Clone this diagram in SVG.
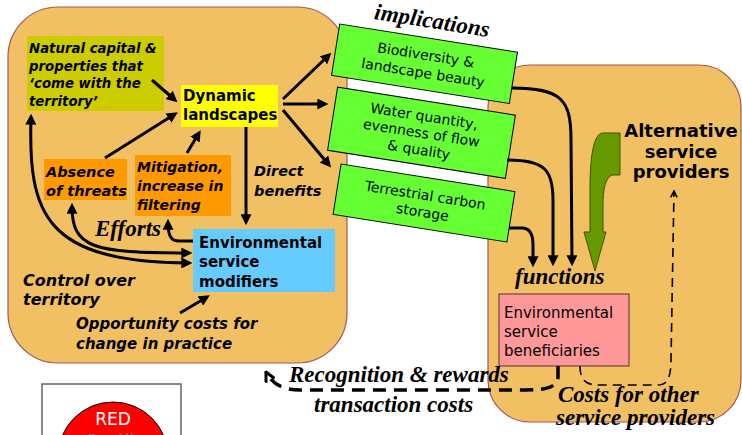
<svg xmlns="http://www.w3.org/2000/svg" width="742" height="435" viewBox="0 0 742 435">
<defs>
<style>
.panel{fill:#F0C062;stroke:#A3555A;stroke-width:1.2}
.sbi{font-family:"DejaVu Sans",Verdana,sans-serif;font-weight:bold;font-style:oblique;fill:#000}
.sb{font-family:"DejaVu Sans",Verdana,sans-serif;font-weight:bold;fill:#000}
.sr{font-family:"DejaVu Sans",Verdana,sans-serif;fill:#000}
.ser{font-family:"Liberation Serif","Times New Roman",serif;font-weight:bold;font-style:italic;fill:#000;font-size:23px}
.green{fill:#66FF33;stroke:#000;stroke-width:1}
.arr{fill:none;stroke:#000;stroke-width:3;marker-end:url(#ah)}
</style>
<marker id="ah" viewBox="0 0 10 10" refX="7" refY="5" markerWidth="11" markerHeight="11" markerUnits="userSpaceOnUse" orient="auto-start-reverse"><path d="M0,0 L10,5 L0,10 z" fill="#000"/></marker>
<marker id="open" viewBox="0 0 10 10" refX="9" refY="5" markerWidth="12" markerHeight="12" markerUnits="userSpaceOnUse" orient="auto"><path d="M1,1 L9,5 L1,9" fill="none" stroke="#000" stroke-width="2.5"/></marker>
<marker id="open2" viewBox="0 0 10 10" refX="9" refY="5" markerWidth="8" markerHeight="8" markerUnits="userSpaceOnUse" orient="auto"><path d="M1,1 L9,5 L1,9" fill="none" stroke="#000" stroke-width="2"/></marker>
</defs>
<rect width="742" height="435" fill="#fff"/>
<rect id="left-panel" class="panel" x="8" y="7" width="339" height="356" rx="50" ry="50"/>
<rect id="right-panel" class="panel" x="488" y="65" width="253" height="357" rx="42" ry="42"/>

<g id="natural-capital">
<rect x="27" y="36" width="137" height="75" fill="#CCCC00"/>
<text class="sbi" font-size="13.3"><tspan x="29" y="53">Natural capital &amp;</tspan><tspan x="29" y="71">properties that</tspan><tspan x="29" y="88">‘come with the</tspan><tspan x="29" y="106">territory’</tspan></text>
</g>
<g id="dynamic-landscapes">
<rect x="181" y="85" width="97" height="42" fill="#FFFF00"/>
<text class="sb" font-size="15"><tspan x="183" y="101">Dynamic</tspan><tspan x="183" y="120">landscapes</tspan></text>
</g>
<g id="absence-of-threats">
<rect x="44" y="159" width="83" height="41" fill="#FF9900"/>
<text class="sbi" font-size="14.5"><tspan x="46" y="177">Absence</tspan><tspan x="46" y="196">of threats</tspan></text>
</g>
<g id="mitigation">
<rect x="135" y="155" width="96" height="61" fill="#FF9900"/>
<text class="sbi" font-size="14"><tspan x="137" y="172">Mitigation,</tspan><tspan x="137" y="191">increase in</tspan><tspan x="137" y="210">filtering</tspan></text>
</g>
<g id="service-modifiers">
<rect x="193" y="229" width="142" height="63" fill="#66CCFF"/>
<text class="sb" font-size="15"><tspan x="199" y="248">Environmental</tspan><tspan x="199" y="267">service</tspan><tspan x="199" y="287">modifiers</tspan></text>
</g>
<g id="labels-left">
<text class="sbi" font-size="14.5"><tspan x="254" y="176">Direct</tspan><tspan x="254" y="196">benefits</tspan></text>
<text class="ser" x="95" y="236">Efforts</text>
<text class="sbi" font-size="16"><tspan x="23" y="286">Control over</tspan><tspan x="23" y="305">territory</tspan></text>
<text class="sbi" font-size="15"><tspan x="76" y="329">Opportunity costs for</tspan><tspan x="76" y="349">change in practice</tspan></text>
</g>

<g id="implications">
<text class="ser" transform="translate(431,28) rotate(9)" text-anchor="middle">implications</text>
</g>
<g id="biodiversity" transform="translate(424.5,63.75) rotate(9)">
<rect class="green" x="-90" y="-26" width="180" height="52"/>
<text class="sr" font-size="14" text-anchor="middle"><tspan x="0" y="-4">Biodiversity &amp;</tspan><tspan x="0" y="14">landscape beauty</tspan></text>
</g>
<g id="water" transform="translate(421.5,132.75) rotate(9)">
<rect class="green" x="-90" y="-32" width="180" height="64"/>
<text class="sr" font-size="14" text-anchor="middle"><tspan x="0" y="-12">Water quantity,</tspan><tspan x="0" y="5">evenness of flow</tspan><tspan x="0" y="22">&amp; quality</tspan></text>
</g>
<g id="carbon" transform="translate(424,203) rotate(9)">
<rect class="green" x="-88" y="-25.5" width="176" height="51"/>
<text class="sr" font-size="14" text-anchor="middle"><tspan x="0" y="-3">Terrestrial carbon</tspan><tspan x="0" y="14">storage</tspan></text>
</g>

<g id="beneficiaries">
<rect x="499" y="294" width="130" height="72" fill="#FF9999" stroke="#553333" stroke-width="1"/>
<text class="sr" font-size="15"><tspan x="504" y="318">Environmental</tspan><tspan x="504" y="337">service</tspan><tspan x="504" y="356">beneficiaries</tspan></text>
</g>
<g id="functions-label"><text class="ser" x="515" y="284">functions</text></g>
<g id="alternative-providers">
<text class="sb" font-size="18" text-anchor="middle"><tspan x="681" y="137">Alternative</tspan><tspan x="681" y="158">service</tspan><tspan x="681" y="178">providers</tspan></text>
</g>
<g id="labels-bottom">
<text class="ser" x="289" y="382">Recognition &amp; rewards</text>
<text class="ser" x="314" y="412">transaction costs</text>
<text class="ser"><tspan x="558" y="402">Costs for other</tspan><tspan x="556" y="425">service providers</tspan></text>
</g>
<g id="red-box">
<rect x="42" y="384" width="139" height="60" fill="#fff" stroke="#666" stroke-width="1.5"/>
<circle cx="113" cy="457" r="55" fill="#FF0000" stroke="#000" stroke-width="1"/>
<text class="sr" font-size="17" style="fill:#fff" x="113" y="425" text-anchor="middle">RED</text>
<text class="sr" font-size="7" style="fill:#fff" x="113" y="439" text-anchor="middle">Unacceptable</text>
</g>

<g id="connectors">
<path class="arr" d="M152,80 L175,100"/>
<path class="arr" d="M105,158 L175,114"/>
<path class="arr" d="M187,153 L199,133"/>
<path class="arr" d="M246,127 L246,222"/>
<path class="arr" d="M283,99 L329,55"/>
<path class="arr" d="M283,104 L325,104"/>
<path class="arr" d="M283,110 L329,165"/>
<path class="arr" style="marker-start:url(#ah)" d="M31,117 C28,215 45,262 189,263"/>
<path class="arr" style="marker-start:url(#ah)" d="M72,206 C72,248 92,253 189,253"/>
<path class="arr" d="M193,241 L179,241 C171,241 168,236 168,222"/>
<path class="arr" d="M180,313 L207,297"/>
<path class="arr" d="M512,88 C562,88 571,100 571,140 L572,263"/>
<path class="arr" d="M507,160 C545,160 553,170 553,200 L553,263"/>
<path class="arr" d="M509,228 L522,228 C530,228 533,235 533,245 L533,264"/>
<path d="M603,133 L620,133 L620,175 L612,175 C605,178 603,190 603,205 L603,232 L606,232 L595,271 L584,232 L590,232 L590,190 C590,150 595,133 603,133 Z" fill="#669900" stroke="#3A5500" stroke-width="1"/>
<path d="M558,366 L558,376 C558,388 545,390 525,390 L300,390 C283,390 272,384 266,372" fill="none" stroke="#000" stroke-width="3.5" stroke-dasharray="13,8" marker-end="url(#open)"/>
<path d="M580,366 C580,384 590,385 600,385 L658,385 C668,385 671,376 671,360 L674,191" fill="none" stroke="#000" stroke-width="1.6" stroke-dasharray="9,6" marker-end="url(#open2)"/>
</g>
</svg>
